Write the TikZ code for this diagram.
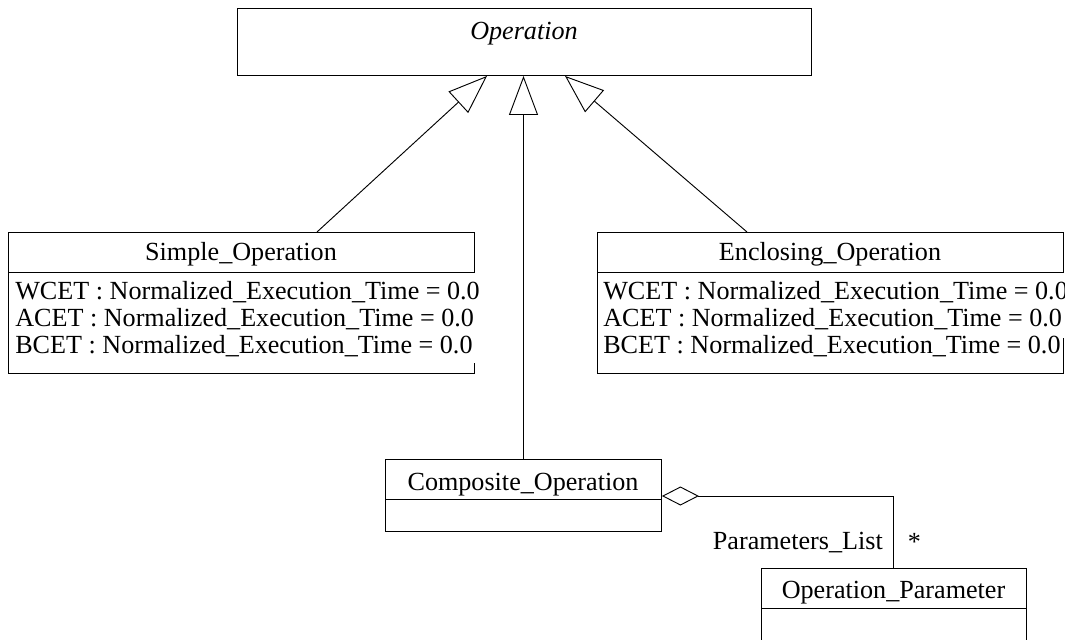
\documentclass[tikz,border=0pt]{standalone}
\usepackage{fontspec}
\setmainfont{Liberation Serif}
\usetikzlibrary{arrows.meta,calc}
\newcommand\umlfont{\fontsize{19.6pt}{20.4pt}\selectfont}
% three attribute lines with a fixed baseline distance
\newcommand\attrlines[3]{\vtop{\baselineskip=20.4pt\lineskiplimit=-20pt
  \hbox{#1}\hbox{#2}\hbox{#3}}}
\begin{document}
\begin{tikzpicture}[x=0.75pt,y=-0.75pt,
  box/.style={draw, line width=0.7pt, inner sep=0pt, anchor=north west},
  lbl/.style={inner sep=0pt, anchor=base, font=\umlfont},
  attrs/.style={inner sep=0pt, anchor=base west, fill=white,
    text height=19.7pt, font=\umlfont},
  gen/.style={draw, line width=0.7pt,
    -{Triangle[open, length=29.25pt, width=21.75pt]}},
  agg/.style={draw, line width=0.7pt,
    {Diamond[open, length=27.75pt, width=14.25pt]}-},
  divider/.style={draw, line width=0.7pt}]
\useasboundingbox (0,0) rectangle (1070,639);
\clip (0,0) rectangle (1070,639);

% abstract base class
\node[box, minimum width=430.5pt, minimum height=50.25pt] (op) at (237,8) {};
\node[lbl, font=\umlfont\itshape] (opname) at (524,39) {Operation};

% Simple_Operation
\node[box, minimum width=349.5pt, minimum height=105.75pt] (simple) at (8,232) {};
\draw[divider] ($(simple.north west)+(0,40)$) -- ($(simple.north east)+(0,40)$);
\node[lbl] (simplename) at (241,260) {Simple\_Operation};
\node[attrs, text depth=47.8pt] (simpleattrs) at (15,299.3) {\attrlines
  {WCET : Normalized\_Execution\_Time = 0.0}
  {ACET : Normalized\_Execution\_Time = 0.0}
  {BCET : Normalized\_Execution\_Time = 0.0}};

% Enclosing_Operation (attribute text cut at the right border)
\node[box, minimum width=349.5pt, minimum height=105.75pt] (encl) at (597,232) {};
\draw[divider] ($(encl.north west)+(0,40)$) -- ($(encl.north east)+(0,40)$);
\node[lbl] (enclname) at (830,260) {Enclosing\_Operation};
\begin{scope}
  \clip ($(encl.north west)+(0,41)$) rectangle ($(encl.south east)+(0.5,0)$);
  \node[attrs, text depth=29pt] (enclattrs) at (603,299.3) {\attrlines
    {WCET : Normalized\_Execution\_Time = 0.0}
    {ACET : Normalized\_Execution\_Time = 0.0}
    {BCET : Normalized\_Execution\_Time = 0.0}};
\end{scope}

% Composite_Operation
\node[box, minimum width=207pt, minimum height=54pt] (comp) at (385,459) {};
\draw[divider] ($(comp.north west)+(0,40)$) -- ($(comp.north east)+(0,40)$);
\node[lbl] (compname) at (523,490) {Composite\_Operation};

% Operation_Parameter
\node[box, minimum width=198.75pt, minimum height=75pt] (param) at (761,568) {};
\draw[divider] ($(param.north west)+(0,40)$) -- ($(param.north east)+(0,40)$);
\node[lbl] (paramname) at (893.5,598) {Operation\_Parameter};

% generalisations
\draw[gen] ($(simple.north west)+(309,0)$) -- ($(op.south west)+(250,0)$);
\draw[gen] ($(comp.north west)+(138.5,0)$) -- ($(op.south west)+(286.5,0)$);
\draw[gen] ($(encl.north west)+(150,0)$) -- ($(op.south west)+(328,0)$);

% aggregation
\draw[agg] ($(comp.north east)+(0,37)$) -| ($(param.north west)+(132.5,0)$);
\node[lbl, anchor=base east] (rolename) at (883,549) {Parameters\_List};
\node[inner sep=0pt, font=\umlfont] (mult) at (914.5,541.5) {*};
\end{tikzpicture}
\end{document}
